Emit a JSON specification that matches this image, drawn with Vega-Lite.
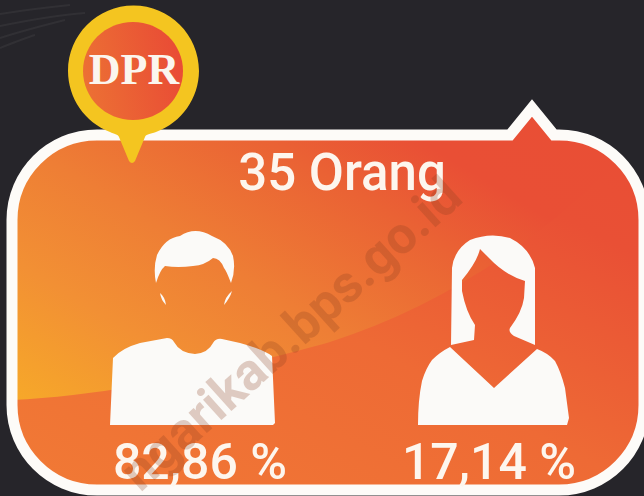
{"$schema":"https://vega.github.io/schema/vega-lite/v6.json","width":644,"height":496,"padding":0,"autosize":"none","background":"#26252a","view":{"stroke":null},"data":{"values":[{"kelompok":"Laki-laki","persen":82.86,"label":"82,86 %"},{"kelompok":"Perempuan","persen":17.14,"label":"17,14 %"}]},"resolve":{"scale":{"x":"independent"}},"layer":[
{"data":{"values":[{"g":"goresan"}]},"mark":{"type":"point","filled":false,"opacity":1,"size":4,"stroke":"#ffffff","strokeOpacity":0.05,"strokeWidth":2,"shape":"M0 14 C25 10 50 7 70 5 M0 26 C30 20 60 15 85 13 M0 38 C25 30 45 25 65 20 M0 48 C15 42 25 38 35 35"},"encoding":{"x":{"datum":0,"type":"quantitative","scale":{"domain":[0,644],"range":[0,644]},"axis":null},"y":{"datum":0,"type":"quantitative","scale":{"domain":[0,496],"range":[0,496]},"axis":null}}},
{"data":{"values":[{"g":"panel"}]},"mark":{"type":"point","filled":true,"opacity":1,"size":4,"strokeWidth":0,"fill":{"gradient":"linear","x1":0,"y1":1,"x2":1,"y2":0,"stops":[{"offset":0.1,"color":"#f7ab28"},{"offset":0.3,"color":"#f29034"},{"offset":0.46,"color":"#ee7e35"},{"offset":0.66,"color":"#ea6234"},{"offset":0.78,"color":"#e94f35"},{"offset":1,"color":"#e94e35"}]},"shape":"M97 135 L510 135 L532 108 L554 135 L559 135 A85 85 0 0 1 644 220 L644 405 A85 85 0 0 1 559 490 L97 490 A85 85 0 0 1 12 405 L12 220 A85 85 0 0 1 97 135 Z"},"encoding":{"x":{"datum":0,"type":"quantitative","scale":{"domain":[0,644],"range":[0,644]},"axis":null},"y":{"datum":0,"type":"quantitative","scale":{"domain":[0,496],"range":[0,496]},"axis":null}}},
{"data":{"values":[{"g":"pita"}]},"mark":{"type":"point","filled":true,"opacity":1,"size":4,"strokeWidth":0,"fill":{"gradient":"linear","x1":0,"y1":1,"x2":1,"y2":0,"stops":[{"offset":0,"color":"#f17a35"},{"offset":0.5,"color":"#ee6a35"},{"offset":0.85,"color":"#e95035"},{"offset":1,"color":"#e94e35"}]},"shape":"M12 400 C120 395 250 365 330 342 C430 310 530 250 619 160 A85 85 0 0 1 644 220 L644 405 A85 85 0 0 1 559 490 L97 490 A85 85 0 0 1 12 405 Z"},"encoding":{"x":{"datum":0,"type":"quantitative","scale":{"domain":[0,644],"range":[0,644]},"axis":null},"y":{"datum":0,"type":"quantitative","scale":{"domain":[0,496],"range":[0,496]},"axis":null}}},
{"data":{"values":[{"g":"garis"}]},"mark":{"type":"point","filled":false,"opacity":1,"size":4,"stroke":"#fdfbf8","strokeWidth":11,"shape":"M97 135 L510 135 L532 108 L554 135 L559 135 A85 85 0 0 1 644 220 L644 405 A85 85 0 0 1 559 490 L97 490 A85 85 0 0 1 12 405 L12 220 A85 85 0 0 1 97 135 Z"},"encoding":{"x":{"datum":0,"type":"quantitative","scale":{"domain":[0,644],"range":[0,644]},"axis":null},"y":{"datum":0,"type":"quantitative","scale":{"domain":[0,496],"range":[0,496]},"axis":null}}},
{"data":{"values":[{"g":"lencana"}]},"mark":{"type":"point","filled":true,"opacity":1,"size":4,"strokeWidth":0,"fill":"#f4c520","shape":"M68 71 A65.5 65.5 0 1 1 199 71 A65.5 65.5 0 0 1 156 132 C150 134 146 134 145 137 L135 161 Q132 165 129 161 L119 137 C118 134 114 134 110 132 A65.5 65.5 0 0 1 68 71 Z"},"encoding":{"x":{"datum":0,"type":"quantitative","scale":{"domain":[0,644],"range":[0,644]},"axis":null},"y":{"datum":0,"type":"quantitative","scale":{"domain":[0,496],"range":[0,496]},"axis":null}}},
{"data":{"values":[{"g":"lingkaran"}]},"mark":{"type":"point","filled":true,"opacity":1,"size":4,"strokeWidth":0,"fill":{"gradient":"linear","x1":0,"y1":0.6,"x2":1,"y2":0.4,"stops":[{"offset":0,"color":"#ec7034"},{"offset":1,"color":"#e94b35"}]},"shape":"M83 71 A50 49 0 1 1 183 71 A50 49 0 1 1 83 71 Z"},"encoding":{"x":{"datum":0,"type":"quantitative","scale":{"domain":[0,644],"range":[0,644]},"axis":null},"y":{"datum":0,"type":"quantitative","scale":{"domain":[0,496],"range":[0,496]},"axis":null}}},
{"data":{"values":[{"teks":"DPR"}]},"mark":{"type":"text","font":"Liberation Serif","fontWeight":"bold","fontSize":44,"color":"#fbf6ee","align":"center","baseline":"alphabetic"},"encoding":{"text":{"field":"teks"},"x":{"datum":134,"type":"quantitative","scale":{"domain":[0,644],"range":[0,644]},"axis":null},"y":{"datum":84,"type":"quantitative","scale":{"domain":[0,496],"range":[0,496]},"axis":null}}},
{"data":{"values":[{"teks":"35 Orang"}]},"mark":{"type":"text","font":"Roboto","fontWeight":500,"fontSize":51,"color":"#fdf6ee","align":"center","baseline":"alphabetic"},"encoding":{"text":{"field":"teks"},"x":{"datum":342,"type":"quantitative","scale":{"domain":[0,644],"range":[0,644]},"axis":null},"y":{"datum":190,"type":"quantitative","scale":{"domain":[0,496],"range":[0,496]},"axis":null}}},
{"mark":{"type":"point","filled":true,"opacity":1,"size":4,"strokeWidth":0,"fill":"#fbfaf8","shape":"M110 425 L113 358 Q122 348 140 343 L167 338 Q172 338 174 342 Q180 353 195 354 Q208 353 213 343 Q216 338 222 339 L240 343 Q262 349 272 356 L275 423 L273 425 Z M156 283 Q153 268 157 255 Q165 238 180 236 Q195 226 212 236 Q228 242 233 256 Q236 270 231 283 Q226 270 224 268 Q220 258 213 258 Q205 265 193 266 Q178 268 165 266 Q160 270 156 283 Z M160 293 Q165 297 166 305 Q161 300 160 293 Z M232 291 Q230 298 224 305 Q225 297 232 291 Z"},"transform":[{"filter":"datum.kelompok==='Laki-laki'"}],"encoding":{"x":{"datum":0,"type":"quantitative","scale":{"domain":[0,644],"range":[0,644]},"axis":null},"y":{"datum":0,"type":"quantitative","scale":{"domain":[0,496],"range":[0,496]},"axis":null}}},
{"mark":{"type":"point","filled":true,"opacity":1,"size":4,"strokeWidth":0,"fill":"#fbfaf8","shape":"M418 425 Q418 400 422 381 Q426 368 432 360 Q440 352 450 347 L494 388 L537 349 Q548 353 555 361 Q561 372 565 388 L569 418 L567 425 Z M451 345 L452 268 Q454 250 470 240 Q490 232 510 238 Q530 248 535 268 L535 345 L514 336 Q508 332 510 328 Q522 312 524 298 L525 281 Q505 275 489 258 L480 249 Q477 262 462 280 L462 291 Q466 312 475 325 L474 340 Z"},"transform":[{"filter":"datum.kelompok==='Perempuan'"}],"encoding":{"x":{"datum":0,"type":"quantitative","scale":{"domain":[0,644],"range":[0,644]},"axis":null},"y":{"datum":0,"type":"quantitative","scale":{"domain":[0,496],"range":[0,496]},"axis":null}}},
{"mark":{"type":"text","font":"Roboto","fontWeight":500,"fontSize":50,"color":"#fdf6ee","align":"center","baseline":"alphabetic"},"encoding":{"text":{"field":"label"},"x":{"field":"kelompok","type":"nominal","scale":{"type":"point","padding":0,"domain":["Laki-laki","Perempuan"],"range":[200,489]},"axis":null},"y":{"datum":479,"type":"quantitative","scale":{"domain":[0,496],"range":[0,496]},"axis":null}}},
{"data":{"values":[{"teks":"ngarikab.bps.go.id"}]},"mark":{"type":"text","font":"Roboto","fontWeight":"bold","fontSize":52,"color":"#8a3f20","opacity":0.25,"angle":318,"align":"center","baseline":"middle"},"encoding":{"text":{"field":"teks"},"x":{"datum":292,"type":"quantitative","scale":{"domain":[0,644],"range":[0,644]},"axis":null},"y":{"datum":335,"type":"quantitative","scale":{"domain":[0,496],"range":[0,496]},"axis":null}}}
]}
